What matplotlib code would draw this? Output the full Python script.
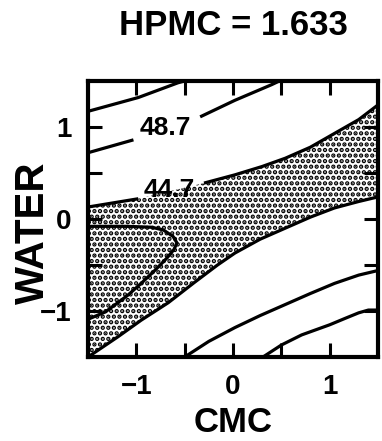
import matplotlib
matplotlib.use("Agg")
import matplotlib.pyplot as plt

plt.rcParams["font.family"] = ["Liberation Sans", "DejaVu Sans"]
plt.rcParams["font.weight"] = "bold"
plt.rcParams["hatch.linewidth"] = 2.2

# контурные линии (CMC, WATER)
top_x = [-1.5, -0.98, -0.57, -0.50]
top_y = [1.17, 1.32, 1.48, 1.50]

c487_left_x = [-1.5, -1.03]
c487_left_y = [0.72, 0.86]
c487_right_x = [-0.34, 0.02, 0.40, 0.48]
c487_right_y = [1.11, 1.29, 1.46, 1.50]

c447_left_x = [-1.5, -0.98]
c447_left_y = [0.13, 0.22]
c447_right_x = [-0.30, 0.02, 0.30, 0.54, 0.80, 1.05, 1.30, 1.5]
c447_right_y = [0.39, 0.48, 0.57, 0.66, 0.78, 0.93, 1.08, 1.24]

low_x = [-1.5, -1.19, -0.95, -0.67, -0.40, -0.16, 0.02, 0.28, 0.54, 0.80, 1.05, 1.30, 1.5]
low_y = [-1.5, -1.28, -1.10, -0.91, -0.69, -0.50, -0.37, -0.22, -0.10, 0.02, 0.12, 0.19, 0.24]

loop_x = [-1.5, -1.1, -0.84, -0.72, -0.62, -0.58, -0.61, -0.68, -0.80, -0.95, -1.09, -1.32, -1.5]
loop_y = [-0.08, -0.08, -0.09, -0.12, -0.19, -0.26, -0.33, -0.42, -0.55, -0.70, -0.83, -1.01, -1.09]

f_x = [-0.50, -0.25, 0.02, 0.28, 0.54, 0.80, 1.05, 1.30, 1.5]
f_y = [-1.5, -1.33, -1.18, -1.05, -0.93, -0.81, -0.70, -0.61, -0.56]

g_x = [0.31, 0.50, 0.71, 1.0, 1.16, 1.30, 1.40, 1.5]
g_y = [-1.5, -1.37, -1.26, -1.15, -1.08, -1.02, -0.99, -0.99]

labels = ["48.7", "44.7"]
label_x = [-0.70, -0.66]
label_y = [0.99, 0.31]

xticks = [-1, 0, 1]
yticks = [-1, 0, 1]

fig = plt.figure(figsize=(3.82, 4.41), dpi=100)
ax = fig.add_axes([0.2304, 0.1905, 0.7592, 0.6259])

# заштрихованная (точками) область между 44.7 и нижней линией
band_x = c447_left_x + c447_right_x + low_x[::-1]
band_y = c447_left_y + c447_right_y + low_y[::-1]
ax.fill(band_x, band_y, facecolor="white", edgecolor="black", hatch="...", linewidth=0)

lw = 2.3
for xs, ys in [(top_x, top_y), (c487_left_x, c487_left_y), (c487_right_x, c487_right_y),
               (c447_left_x, c447_left_y), (c447_right_x, c447_right_y),
               (low_x, low_y), (loop_x, loop_y), (f_x, f_y), (g_x, g_y)]:
    ax.plot(xs, ys, color="black", linewidth=lw, solid_capstyle="butt",
            solid_joinstyle="round")

for t, x, y in zip(labels, label_x, label_y):
    ax.text(x, y, t, fontsize=19, fontweight="bold", ha="center", va="center")

ax.set_xlim(-1.5, 1.5)
ax.set_ylim(-1.5, 1.5)
ax.set_xticks(xticks)
ax.set_yticks(yticks)
ax.set_xticks([-0.5, 0.5], minor=True)
ax.set_yticks([-0.5, 0.5], minor=True)
ax.set_xticklabels(["\u22121", "0", "1"])
ax.set_yticklabels(["\u22121", "0", "1"])
ax.tick_params(which="both", direction="in", length=10, width=2.2,
               top=True, right=True)
ax.tick_params(axis="x", which="major", labelsize=20, pad=12)
ax.tick_params(axis="y", which="major", labelsize=20, pad=12)
for s in ax.spines.values():
    s.set_linewidth(3)

ax.set_xlabel("CMC", fontsize=25, fontweight="bold")
ax.xaxis.label.set_va("baseline")
ax.xaxis.set_label_coords(0.502, -0.27)
ax.set_ylabel("WATER", fontsize=29, fontweight="bold")
ax.yaxis.set_label_coords(-0.125, 0.45)
fig.text(0.61, 0.943, "HPMC = 1.633", fontsize=25, fontweight="bold",
         ha="center", va="center")

fig.savefig("out.png", dpi=100)
